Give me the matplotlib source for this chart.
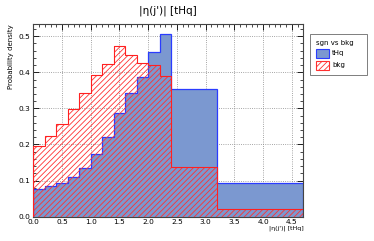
import numpy as np
import matplotlib.pyplot as plt
from matplotlib.patches import Patch
from matplotlib.ticker import MultipleLocator

# bin edges and densities
edges = [0.0, 0.2, 0.4, 0.6, 0.8, 1.0, 1.2, 1.4, 1.6, 1.8, 2.0, 2.2, 2.4, 3.2, 4.7]
sgn = [0.078, 0.085, 0.094, 0.109, 0.134, 0.175, 0.220, 0.287, 0.344, 0.386,
       0.456, 0.507, 0.355, 0.094]
bkg = [0.196, 0.223, 0.256, 0.298, 0.344, 0.393, 0.423, 0.474, 0.449, 0.426,
       0.421, 0.391, 0.137, 0.020]
xticks = [0.0, 0.5, 1.0, 1.5, 2.0, 2.5, 3.0, 3.5, 4.0, 4.5]
yticks = [0.0, 0.1, 0.2, 0.3, 0.4, 0.5]

plt.rcParams['hatch.linewidth'] = 0.6
plt.rcParams['hatch.color'] = '#ff3030'

fig = plt.figure(figsize=(3.74, 2.41), dpi=100)
ax = fig.add_axes([0.089, 0.101, 0.722, 0.798])

blue_fill = '#7b98d0'
ax.stairs(sgn, edges, fill=True, facecolor=blue_fill, edgecolor='none', zorder=2)
ax.stairs(sgn, edges, color='#2a3cff', lw=0.9, zorder=3)
ax.stairs(bkg, edges, fill=True, facecolor='none', hatch='//////',
          edgecolor='#ff3030', lw=0, zorder=4)
ax.stairs(bkg, edges, color='#ff2020', lw=0.8, zorder=5)

ax.set_xlim(0, 4.7)
ax.set_ylim(0, 0.533)
ax.set_xticks(xticks)
ax.set_yticks(yticks)
ax.xaxis.set_minor_locator(MultipleLocator(0.1))
ax.yaxis.set_minor_locator(MultipleLocator(0.02))
ax.tick_params(which='both', direction='in', top=True, right=True,
               labelsize=5.3, pad=2)
ax.tick_params(which='major', length=4, width=0.6)
ax.tick_params(which='minor', length=2, width=0.5)
ax.grid(True, which='major', color='#888888', ls=':', lw=0.6, zorder=1)
ax.set_axisbelow(True)
for s in ax.spines.values():
    s.set_linewidth(0.8)
    s.set_color('#444444')

ax.set_title("|η(j')| [tHq]", fontsize=7.5, pad=8)
ax.set_xlabel("|η(j')| [tHq]", fontsize=4.5, loc='right', labelpad=0)
ax.set_ylabel('Probability density', fontsize=5, loc='top', labelpad=3)

handles = [Patch(facecolor=blue_fill, edgecolor='#2a3cff', lw=0.8, label='tHq'),
           Patch(facecolor='white', edgecolor='#ff3030', hatch='//////',
                 lw=0.8, label='bkg')]
leg = fig.legend(handles=handles, title='sgn vs bkg', loc='upper left',
                 bbox_to_anchor=(0.829, 0.859, 0.152, 0), mode='expand',
                 fontsize=5, title_fontsize=5,
                 frameon=True, fancybox=False, edgecolor='#444444',
                 handlelength=1.9, handleheight=1.6, borderpad=0.8,
                 labelspacing=0.45, handletextpad=0.5, borderaxespad=0)
leg._legend_box.align = 'left'
leg.get_frame().set_linewidth(0.6)

fig.savefig('out.png', dpi=100)
